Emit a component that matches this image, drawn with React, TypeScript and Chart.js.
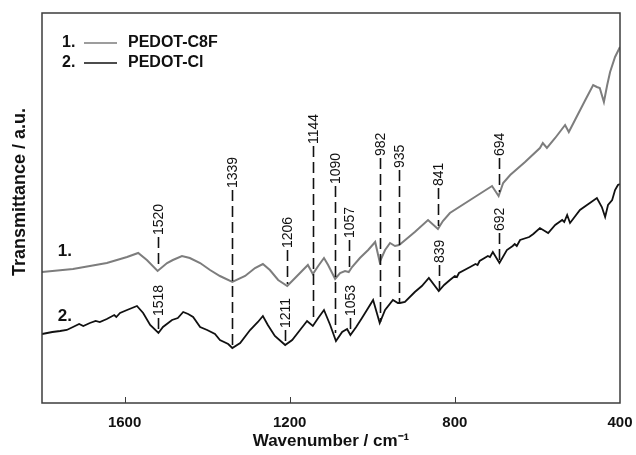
import { useEffect, useRef } from "react";
import { Chart, registerables } from "chart.js";
Chart.register(...registerables);

const seriesNames = ["PEDOT-C8F", "PEDOT-Cl"];
const seriesTags = ["1.", "2."];
const seriesColors = ["#7d7d7d", "#111111"];

const c8fWavenumbers = [1800, 1725, 1643, 1594, 1567, 1546, 1520, 1497, 1483, 1461, 1442, 1417, 1393, 1369, 1339, 1308, 1284, 1265, 1248, 1228, 1206, 1187, 1168, 1156, 1144, 1131, 1117, 1107, 1090, 1078, 1066, 1057, 1049, 1030, 1010, 993, 982, 969, 957, 945, 935, 926, 897, 865, 841, 829, 812, 763, 710, 694, 683, 666, 630, 594, 587, 577, 557, 533, 524, 509, 484, 465, 456, 449, 439, 431, 424, 412, 400];
const c8fValues = [131, 134, 140, 146, 150, 143, 132, 140, 143, 147, 145, 140, 133, 127, 121, 127, 135, 139, 133, 123, 117, 125, 133, 138, 129, 137, 145, 138, 124, 130, 132, 131, 136, 145, 153, 161, 141, 153, 160, 157, 158, 161, 171, 183, 174, 182, 190, 203, 217, 207, 220, 228, 241, 255, 260, 255, 265, 278, 271, 283, 303, 318, 316, 315, 301, 318, 331, 346, 356];

const clWavenumbers = [1800, 1775, 1756, 1740, 1725, 1710, 1700, 1684, 1670, 1660, 1643, 1625, 1620, 1611, 1594, 1570, 1555, 1538, 1518, 1507, 1485, 1471, 1458, 1446, 1434, 1417, 1400, 1381, 1369, 1349, 1339, 1320, 1296, 1277, 1265, 1253, 1236, 1211, 1194, 1175, 1158, 1144, 1131, 1117, 1102, 1088, 1073, 1061, 1053, 1039, 1025, 1010, 998, 982, 969, 950, 938, 933, 921, 897, 880, 863, 839, 826, 812, 800, 795, 790, 763, 750, 745, 740, 720, 715, 708, 692, 674, 660, 655, 650, 642, 620, 610, 594, 574, 557, 540, 535, 528, 521, 497, 480, 473, 456, 444, 436, 429, 419, 412, 405, 400];
const clValues = [69, 71, 72, 73, 76, 79, 77, 80, 82, 81, 84, 88, 86, 90, 93, 97, 90, 78, 70, 76, 83, 85, 91, 89, 86, 76, 73, 69, 63, 59, 55, 60, 73, 81, 87, 78, 67, 58, 63, 73, 82, 77, 85, 93, 78, 62, 71, 74, 68, 76, 85, 95, 103, 80, 93, 103, 100, 100, 101, 111, 117, 125, 112, 118, 123, 127, 126, 130, 136, 139, 138, 142, 147, 146, 151, 140, 153, 157, 159, 157, 163, 166, 169, 175, 170, 178, 183, 181, 188, 180, 193, 198, 200, 205, 196, 186, 198, 203, 213, 218, 219];

const xTickValues = [1600, 1200, 800, 400];

const peakWavenumbers = [1520, 1518, 1339, 1206, 1211, 1144, 1090, 1057, 1053, 982, 935, 841, 839, 694, 692];
const peakLabels = ["1520", "1518", "1339", "1206", "1211", "1144", "1090", "1057", "1053", "982", "935", "841", "839", "694", "692"];
const peakLineLow = [137, 73, 57, 119, 59, 85, 70, 135, 70, 81, 101, 177, 113, 211, 143];
const peakLineHigh = [166, 85, 213, 153, 73, 257, 217, 163, 85, 245, 233, 215, 138, 245, 170];

const tagWavenumber = 1762;
const tagValues = [152, 87];

const FONT = "'Liberation Sans', Arial, sans-serif";

const decorPlugin = {
  id: "decor",
  afterDatasetsDraw(chart: any) {
    const ctx = chart.ctx;
    const xs = chart.scales.x;
    const ys = chart.scales.y;
    ctx.save();
    ctx.strokeStyle = "#111";
    ctx.fillStyle = "#111";
    ctx.lineWidth = 1.6;
    ctx.font = `14px ${FONT}`;
    for (let i = 0; i < peakWavenumbers.length; i++) {
      const x = Math.round(xs.getPixelForValue(peakWavenumbers[i])) + 0.5;
      const yTop = ys.getPixelForValue(peakLineHigh[i]);
      const yBot = ys.getPixelForValue(peakLineLow[i]);
      ctx.setLineDash([11, 5]);
      ctx.beginPath();
      ctx.moveTo(x, yTop);
      ctx.lineTo(x, yBot);
      ctx.stroke();
      ctx.setLineDash([]);
      ctx.save();
      ctx.translate(x, yTop - 2);
      ctx.rotate(-Math.PI / 2);
      ctx.textAlign = "left";
      ctx.textBaseline = "middle";
      ctx.fillText(peakLabels[i], 0, 1);
      ctx.restore();
    }
    ctx.restore();
  },
  afterDraw(chart: any) {
    const ctx = chart.ctx;
    const xs = chart.scales.x;
    const ys = chart.scales.y;
    const ca = chart.chartArea;
    ctx.save();
    ctx.strokeStyle = "#3c3c3c";
    ctx.lineWidth = 1.5;
    ctx.strokeRect(ca.left, ca.top, ca.right - ca.left, ca.bottom - ca.top);
    ctx.lineWidth = 1;
    for (const t of xs.ticks) {
      const x = Math.round(xs.getPixelForValue(t.value)) + 0.5;
      if (x > ca.right - 2) continue;
      ctx.beginPath();
      ctx.moveTo(x, ca.bottom);
      ctx.lineTo(x, ca.bottom - 6);
      ctx.stroke();
    }
    ctx.fillStyle = "#111";
    ctx.font = `bold 18px ${FONT}`;
    ctx.save();
    ctx.translate(20, (ca.top + ca.bottom) / 2 - 16);
    ctx.rotate(-Math.PI / 2);
    ctx.textAlign = "center";
    ctx.textBaseline = "middle";
    ctx.fillText("Transmittance / a.u.", 0, 0);
    ctx.restore();
    ctx.font = `bold 16px ${FONT}`;
    ctx.textBaseline = "middle";
    chart.data.datasets.forEach((ds: any, i: number) => {
      const y = ca.top + 30 + i * 20;
      const x0 = ca.left + 20;
      ctx.fillStyle = "#111";
      ctx.textAlign = "left";
      ctx.fillText(seriesTags[i], x0, y);
      ctx.strokeStyle = ds.borderColor;
      ctx.lineWidth = 1.6;
      ctx.beginPath();
      ctx.moveTo(x0 + 22, y);
      ctx.lineTo(x0 + 55, y);
      ctx.stroke();
      ctx.fillText(ds.label, x0 + 66, y);
    });
    ctx.font = `bold 17px ${FONT}`;
    ctx.textAlign = "left";
    tagValues.forEach((v, i) => {
      ctx.fillText(seriesTags[i], xs.getPixelForValue(tagWavenumber), ys.getPixelForValue(v));
    });
    ctx.restore();
  },
};

export default function App() {
  const ref = useRef<HTMLCanvasElement | null>(null);
  useEffect(() => {
    document.body.style.margin = "0";
    const canvas = ref.current!;
    const chart = new Chart(canvas, {
      type: "line",
      data: {
        datasets: [
          {
            label: seriesNames[0],
            data: c8fWavenumbers.map((w, i) => ({ x: w, y: c8fValues[i] })),
            borderColor: seriesColors[0],
            borderWidth: 2,
            pointRadius: 0,
            tension: 0,
          },
          {
            label: seriesNames[1],
            data: clWavenumbers.map((w, i) => ({ x: w, y: clValues[i] })),
            borderColor: seriesColors[1],
            borderWidth: 1.8,
            pointRadius: 0,
            tension: 0,
          },
        ],
      },
      options: {
        animation: false,
        responsive: false,
        devicePixelRatio: 1,
        layout: { padding: { left: 42, right: 16, top: 13, bottom: 0 } },
        plugins: { legend: { display: false }, tooltip: { enabled: false } },
        scales: {
          x: {
            type: "linear",
            reverse: true,
            min: 400,
            max: 1800,
            afterBuildTicks: (s: any) => {
              s.ticks = xTickValues.map((v) => ({ value: v }));
            },
            afterFit: (s: any) => {
              s.height = 52;
              s.paddingLeft = 0;
              s.paddingRight = 0;
            },
            grid: { display: false, drawTicks: false },
            border: { display: false },
            ticks: {
              padding: 11,
              color: "#111",
              font: { family: FONT, size: 15, weight: "bold" },
              callback: (v: any) => String(v),
              maxRotation: 0,
            },
            title: {
              display: true,
              text: "Wavenumber / cm\u207B\u00B9",
              color: "#111",
              font: { family: FONT, size: 17, weight: "bold" },
              padding: 3,
            },
          },
          y: {
            display: false,
            min: 0,
            max: 390,
          },
        },
      },
      plugins: [decorPlugin],
    });
    return () => chart.destroy();
  }, []);
  return <canvas ref={ref} width={636} height={455} style={{ display: "block" }} />;
}
